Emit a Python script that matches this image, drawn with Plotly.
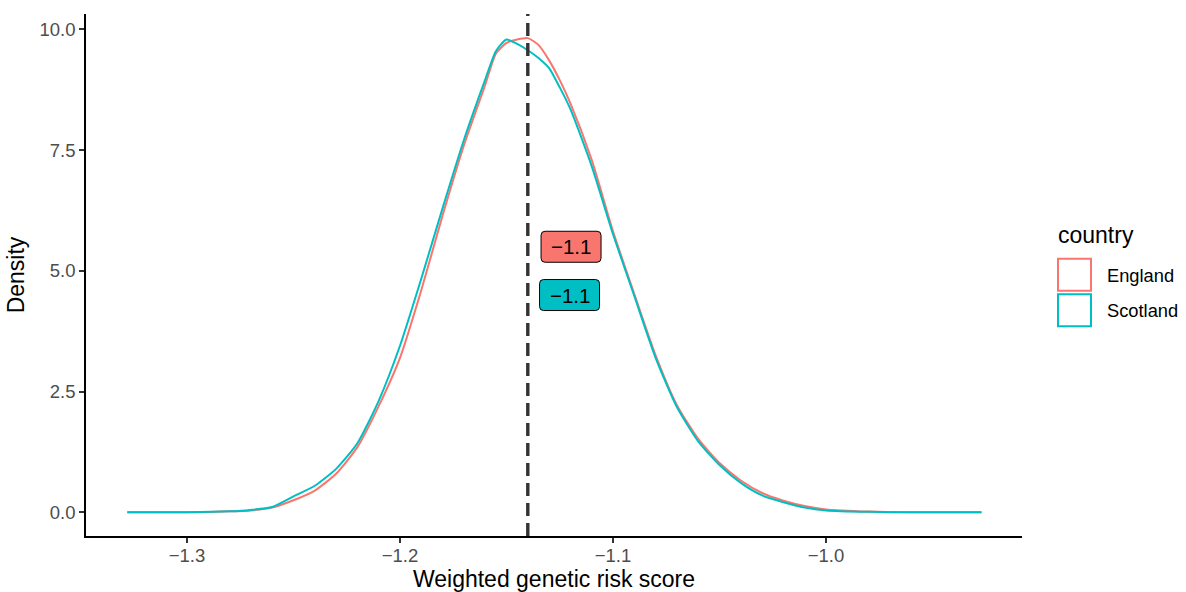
import plotly.graph_objects as go

# ---------------- data ----------------
score_grid = [-1.328, -1.30, -1.28, -1.27, -1.26, -1.25, -1.24, -1.23, -1.22, -1.21,
              -1.20, -1.19, -1.18, -1.17, -1.16, -1.155, -1.15, -1.145, -1.14, -1.135,
              -1.13, -1.125, -1.12, -1.11, -1.10, -1.09, -1.08, -1.07, -1.06, -1.05,
              -1.04, -1.03, -1.02, -1.01, -1.00, -0.98, -0.96, -0.927]
density_england = [0, 0, 0.02, 0.04, 0.10, 0.25, 0.45, 0.80, 1.35, 2.20,
                   3.20, 4.60, 6.15, 7.60, 8.85, 9.50, 9.72, 9.79, 9.82, 9.68,
                   9.36, 8.95, 8.47, 7.30, 5.82, 4.52, 3.25, 2.22, 1.52, 1.02,
                   0.66, 0.40, 0.24, 0.13, 0.06, 0.015, 0.0, 0.0]
density_scotland = [0, 0, 0.02, 0.05, 0.11, 0.33, 0.55, 0.90, 1.43, 2.31,
                    3.45, 4.84, 6.30, 7.71, 8.96, 9.55, 9.79, 9.70, 9.57, 9.41,
                    9.20, 8.80, 8.35, 7.17, 5.76, 4.48, 3.20, 2.18, 1.47, 0.98,
                    0.61, 0.35, 0.21, 0.10, 0.04, 0.01, 0.0, 0.0]
countries = ["England", "Scotland"]
colors = ["#F8766D", "#00BFC4"]
mean_line_x = -1.14
label_x = [-1.1197, -1.1204]
label_y = [5.5, 4.5]
label_text = ["\u22121.1", "\u22121.1"]
x_ticks = [-1.3, -1.2, -1.1, -1.0]
x_tick_text = ["\u22121.3", "\u22121.2", "\u22121.1", "\u22121.0"]
y_ticks = [0, 2.5, 5.0, 7.5, 10.0]
y_tick_text = ["0.0", "2.5", "5.0", "7.5", "10.0"]

FONT = "Liberation Sans, Arial, Helvetica, sans-serif"

fig = go.Figure()
for name, dens, col in zip(countries, [density_england, density_scotland], colors):
    fig.add_trace(go.Scatter(x=score_grid, y=dens, mode="lines", name=name,
                             line=dict(color=col, width=2, shape="spline", smoothing=0.6),
                             showlegend=False, hoverinfo="skip"))

# dashed vertical line
fig.add_shape(type="line", xref="x", yref="paper", x0=mean_line_x, x1=mean_line_x,
              y0=0, y1=1, line=dict(color="#333333", width=3.4, dash="13px,7px"))

# rounded label boxes
def rrect(w, h, r):
    return (f"M {-w+r},{-h} L {w-r},{-h} Q {w},{-h} {w},{-h+r} L {w},{h-r} Q {w},{h} {w-r},{h} "
            f"L {-w+r},{h} Q {-w},{h} {-w},{h-r} L {-w},{-h+r} Q {-w},{-h} {-w+r},{-h} Z")

for lx, ly, txt, col in zip(label_x, label_y, label_text, colors):
    fig.add_shape(type="path", xref="x", yref="y", xsizemode="pixel", ysizemode="pixel",
                  xanchor=lx, yanchor=ly, path=rrect(30, 15.5, 4),
                  fillcolor=col, line=dict(color="black", width=1), layer="above")
    fig.add_annotation(x=lx, y=ly, xref="x", yref="y", text=txt, showarrow=False,
                       font=dict(family=FONT, size=20.5, color="black"),
                       xanchor="center", yanchor="middle")

# manual legend
L, R, T, B = 86, 1022, 14, 536
def px(xp):
    return (xp - L) / (R - L)
def py(yp):
    return (B - yp) / (B - T)

fig.add_annotation(x=px(1055.5), y=py(235), xref="paper", yref="paper", text="country",
                   showarrow=False, xanchor="left", yanchor="middle",
                   font=dict(family=FONT, size=23, color="black"))
key_tops = [257.7, 293.3]
text_y = [275.3, 310.3]
for name, col, kt, ty in zip(countries, colors, key_tops, text_y):
    fig.add_shape(type="rect", xref="paper", yref="paper",
                  x0=px(1058), x1=px(1091), y0=py(kt + 1), y1=py(kt + 33),
                  line=dict(color=col, width=2), fillcolor="white")
    fig.add_annotation(x=px(1104.5), y=py(ty), xref="paper", yref="paper", text=name,
                       showarrow=False, xanchor="left", yanchor="middle",
                       font=dict(family=FONT, size=18.3, color="black"))

fig.update_layout(
    width=1186, height=592,
    margin=dict(l=L, r=1186 - R, t=T, b=592 - B),
    plot_bgcolor="white", paper_bgcolor="white",
    font=dict(family=FONT, color="black"),
    showlegend=False,
    xaxis=dict(range=[-1.3474, -0.908], tickvals=x_ticks, ticktext=x_tick_text,
               automargin=False,
               showgrid=False, zeroline=False, showline=True, linecolor="black", linewidth=1.6,
               ticks="outside", ticklen=5, tickwidth=1.5, tickcolor="#333333",
               ticklabelstandoff=-3,
               tickfont=dict(family=FONT, size=18.5, color="#4D4D4D"),
               title=dict(text="Weighted genetic risk score", standoff=8,
                          font=dict(family=FONT, size=23, color="black"))),
    yaxis=dict(range=[-0.49, 10.32], tickvals=y_ticks, ticktext=y_tick_text,
               automargin=False,
               showgrid=False, zeroline=False, showline=True, linecolor="black", linewidth=1.6,
               ticks="outside", ticklen=5, tickwidth=1.5, tickcolor="#333333",
               ticklabelstandoff=0,
               tickfont=dict(family=FONT, size=18.5, color="#4D4D4D"),
               title=dict(text="Density", standoff=8,
                          font=dict(family=FONT, size=23, color="black"))),
)

fig.write_html("out.html", config={"displayModeBar": False},
               post_script="document.body.style.margin='0';document.body.style.overflow='hidden';")
